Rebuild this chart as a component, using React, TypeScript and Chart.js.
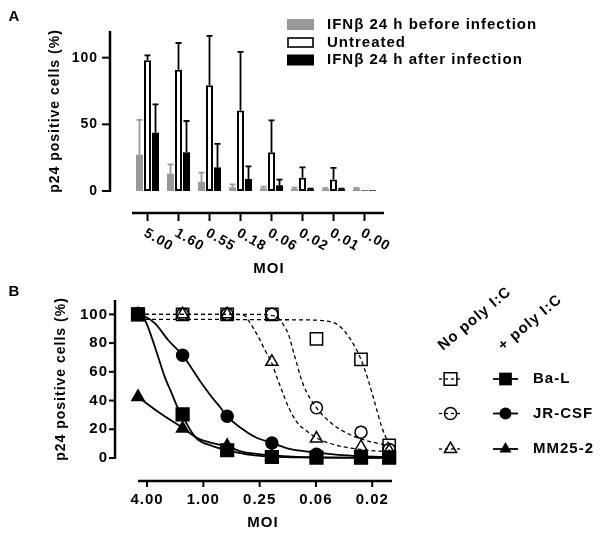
import React, { useEffect, useRef } from 'react';
import { Chart, registerables } from 'chart.js';

Chart.register(...registerables);

const FONT = '"Liberation Sans", Arial, sans-serif';

// ---------------- Panel A data ----------------
const MOI_A = ['5.00', '1.60', '0.55', '0.18', '0.06', '0.02', '0.01', '0.00'];
const SERIES_A = ['IFNβ 24 h before infection', 'Untreated', 'IFNβ 24 h after infection'];
const BEFORE = [27.3, 13, 6.8, 2.8, 2, 1.5, 1.5, 1.8];
const BEFORE_ERR = [26, 7, 7, 2.2, 1.3, 1, 0.8, 0.5];
const UNTREATED = [98, 91, 79.3, 60.4, 29, 10, 8.6, 0.5];
const UNTREATED_ERR = [3.7, 20, 37, 44, 24, 7.7, 8.8, 0];
const AFTER = [43.7, 29, 17.7, 9, 4.3, 1.3, 1.3, 0.5];
const AFTER_ERR = [21.3, 23.5, 17.7, 9.4, 4.3, 0.5, 0.5, 0];
const Y_TICKS_A = [0, 50, 100];
const Y_TITLE = 'p24 positive cells (%)';
const X_TITLE = 'MOI';

// ---------------- Panel B data ----------------
const MOI_B = [5, 1.667, 0.556, 0.185, 0.0617, 0.0206, 0.0103];
const X_TICKS_B = [4, 1, 0.25, 0.0625, 0.015625];
const X_TICK_LABELS_B = ['4.00', '1.00', '0.25', '0.06', '0.02'];
const Y_TICKS_B = [0, 20, 40, 60, 80, 100];
const VIRUSES = ['Ba-L', 'JR-CSF', 'MM25-2'];
const COLUMN_HEADERS = ['No poly I:C', '+ poly I:C'];

const BAL_NO = [100, 100, 100, 100, 83, 68.6, 8.8];
const JR_NO = [100, 100, 100, 100, 35, 18, 6];
const MM_NO = [100, 100, 100, 67, 13.5, 7.7, 5];
const BAL_PLUS = [100, 30.4, 5.4, 0.7, 0.3, 0.2, 0.2];
const JR_PLUS = [100, 71.6, 29, 10.5, 2.6, 0.8, 0.5];
const MM_PLUS = [42.5, 20.5, 8.5, 1.2, 0.6, 0.5, 0.5];

// fitted curves
const BAL_NO_FIT_X = [5, 0.1, 0.05, 0.036, 0.0282, 0.0239, 0.0206, 0.0172, 0.0146, 0.0124, 0.0103];
const BAL_NO_FIT_Y = [96.6, 96.2, 95.5, 92.5, 85, 77.4, 68.6, 54, 38, 22, 8.8];
const JR_NO_FIT_X = [5, 0.26, 0.2, 0.159, 0.14, 0.123, 0.1047, 0.0853, 0.0617, 0.0424, 0.0306, 0.0211, 0.0103];
const JR_NO_FIT_Y = [100, 100, 99.5, 97.5, 93, 86, 70, 51, 35, 24, 18, 13.5, 8.4];
const MM_NO_FIT_X = [5, 0.45, 0.359, 0.331, 0.258, 0.219, 0.185, 0.164, 0.145, 0.123, 0.1, 0.0755, 0.0617, 0.0375, 0.0211, 0.0103];
const MM_NO_FIT_Y = [100, 100, 99, 96, 84.3, 75, 66, 56.4, 47.2, 35.5, 25, 18, 14, 8.8, 6, 4.2];
const BAL_PLUS_FIT_X = [5, 4.21, 3.57, 3.03, 2.57, 2.18, 1.85, 1.667, 1.51, 1.33, 1.13, 0.814, 0.556, 0.389, 0.28, 0.185, 0.1, 0.0617, 0.0206, 0.0103];
const BAL_PLUS_FIT_Y = [100, 96, 84, 70, 56, 45, 34, 29, 24, 18, 12.5, 8.5, 5.5, 3.2, 1.8, 0.9, 0.4, 0.2, 0.1, 0.1];
const JR_PLUS_FIT_X = [5, 4.21, 3.29, 2.37, 1.667, 1.33, 1.04, 0.814, 0.664, 0.556, 0.389, 0.28, 0.185, 0.123, 0.0723, 0.036, 0.0206, 0.0103];
const JR_PLUS_FIT_Y = [100, 98.5, 93.7, 82, 71.6, 62.3, 51.8, 42.5, 35.5, 29, 20.5, 14.6, 10.5, 6.5, 4.2, 2.2, 1.3, 0.6];
const MM_PLUS_FIT_X = [5, 3.03, 1.667, 1.13, 0.814, 0.556, 0.389, 0.28, 0.185, 0.1, 0.0617, 0.0206, 0.0103];
const MM_PLUS_FIT_Y = [42.5, 32, 21, 13.5, 10.5, 8, 4.5, 3, 1.8, 0.8, 0.5, 0.3, 0.3];

const bold = (size: number) => `bold ${size}px ${FONT}`;

function text(ctx: any, s: string, x: number, y: number, size: number, align: string, base: string, spacing = 1) {
  ctx.font = bold(size);
  ctx.textAlign = align;
  ctx.textBaseline = base;
  ctx.letterSpacing = spacing + 'px';
  ctx.fillStyle = '#000';
  ctx.fillText(s, x, y);
  ctx.letterSpacing = '0px';
}

function drawYAxis(chart: any, ticks: number[], tickLen: number, pad: number, tickSize: number, titleX: number) {
  const { ctx, chartArea } = chart;
  const y = chart.scales.y;
  const { left, top, bottom } = chartArea;
  ctx.save();
  ctx.strokeStyle = '#000';
  ctx.lineWidth = 2.5;
  ctx.beginPath();
  ctx.moveTo(left, top);
  ctx.lineTo(left, bottom + 1);
  ctx.stroke();
  ticks.forEach((v) => {
    const py = y.getPixelForValue(v);
    ctx.lineWidth = 2;
    ctx.beginPath();
    ctx.moveTo(left - tickLen, py);
    ctx.lineTo(left, py);
    ctx.stroke();
    text(ctx, String(v), left - tickLen - pad, py, tickSize, 'right', 'middle');
  });
  ctx.translate(titleX, (top + bottom) / 2);
  ctx.rotate(-Math.PI / 2);
  text(ctx, Y_TITLE, 0, 0, 14, 'center', 'middle');
  ctx.restore();
}

function drawMarker(ctx: CanvasRenderingContext2D, style: string, x: number, y: number, r: number, filled: boolean) {
  ctx.beginPath();
  if (style === 'rect') {
    const s = r * Math.SQRT1_2;
    ctx.rect(x - s, y - s, 2 * s, 2 * s);
  } else if (style === 'circle') {
    ctx.arc(x, y, r, 0, Math.PI * 2);
  } else {
    for (let k = 0; k < 3; k++) {
      const a = (k * 2 * Math.PI) / 3;
      const px = x + Math.sin(a) * r;
      const py = y - Math.cos(a) * r;
      if (k) ctx.lineTo(px, py); else ctx.moveTo(px, py);
    }
    ctx.closePath();
  }
  if (filled) {
    ctx.fillStyle = '#000';
    ctx.fill();
  } else {
    ctx.strokeStyle = '#000';
    ctx.lineWidth = 1.5;
    ctx.stroke();
  }
}

const panelAPlugin = {
  id: 'panelA',
  afterDatasetsDraw(chart: any) {
    const { ctx } = chart;
    const y = chart.scales.y;
    const vals = [BEFORE, UNTREATED, AFTER];
    const errs = [BEFORE_ERR, UNTREATED_ERR, AFTER_ERR];
    const colors = ['#999999', '#000', '#000'];
    ctx.save();
    errs.forEach((e, d) => {
      const meta = chart.getDatasetMeta(d);
      meta.data.forEach((bar: any, i: number) => {
        if (e[i] <= 0) return;
        const top = y.getPixelForValue(vals[d][i]);
        const end = y.getPixelForValue(vals[d][i] + e[i]);
        ctx.strokeStyle = colors[d];
        ctx.lineWidth = 1.8;
        ctx.beginPath();
        ctx.moveTo(bar.x, top);
        ctx.lineTo(bar.x, end);
        ctx.moveTo(bar.x - 3, end);
        ctx.lineTo(bar.x + 3, end);
        ctx.stroke();
      });
    });
    ctx.restore();
  },
  afterDraw(chart: any) {
    const { ctx } = chart;
    const x = chart.scales.x;
    drawYAxis(chart, Y_TICKS_A, 8, 4, 14, 55);
    ctx.save();
    ctx.strokeStyle = '#000';
    text(ctx, 'A', 14, 17, 15, 'center', 'middle', 0);
    // detached x axis
    const axisY = 213;
    ctx.lineWidth = 2.5;
    ctx.beginPath();
    ctx.moveTo(132, axisY);
    ctx.lineTo(384, axisY);
    ctx.stroke();
    ctx.lineWidth = 2;
    MOI_A.forEach((lab, i) => {
      const px = x.getPixelForValue(i);
      ctx.beginPath();
      ctx.moveTo(px, axisY);
      ctx.lineTo(px, axisY + 8);
      ctx.stroke();
      ctx.save();
      ctx.translate(px + 1, 226);
      ctx.rotate(Math.PI / 6);
      text(ctx, lab, 0, 0, 14, 'left', 'top', 1);
      ctx.restore();
    });
    text(ctx, X_TITLE, 269, 269, 15, 'center', 'middle');
    // legend
    const rows = [24.5, 42.5, 60];
    const fills = ['#999999', '#ffffff', '#000000'];
    rows.forEach((ry, i) => {
      ctx.fillStyle = fills[i];
      ctx.fillRect(287, ry - 5.5, 27, 11);
      if (i === 1) {
        ctx.lineWidth = 1.6;
        ctx.strokeStyle = '#000';
        ctx.strokeRect(288, ry - 4.5, 25, 9);
      }
      text(ctx, SERIES_A[i], 327, ry, 15, 'left', 'middle');
    });
    ctx.restore();
  },
};

const panelBPlugin = {
  id: 'panelB',
  afterDraw(chart: any) {
    const { ctx } = chart;
    const x = chart.scales.x;
    drawYAxis(chart, Y_TICKS_B, 6, 1, 15, 61);
    ctx.save();
    ctx.strokeStyle = '#000';
    text(ctx, 'B', 14, 292, 15, 'center', 'middle', 0);
    // detached x axis
    const axisY = 481;
    ctx.lineWidth = 2.5;
    ctx.beginPath();
    ctx.moveTo(138, axisY);
    ctx.lineTo(392, axisY);
    ctx.stroke();
    ctx.lineWidth = 2;
    X_TICKS_B.forEach((v, i) => {
      const px = x.getPixelForValue(v);
      ctx.beginPath();
      ctx.moveTo(px, axisY);
      ctx.lineTo(px, axisY + 6);
      ctx.stroke();
      text(ctx, X_TICK_LABELS_B[i], px, 500, 15, 'center', 'middle');
    });
    text(ctx, X_TITLE, 263, 523, 15, 'center', 'middle');
    // column headers
    const headerX = [443, 503];
    COLUMN_HEADERS.forEach((h, i) => {
      ctx.save();
      ctx.translate(headerX[i], 351);
      ctx.rotate((-40 * Math.PI) / 180);
      text(ctx, h, 0, 0, 15, 'left', 'alphabetic');
      ctx.restore();
    });
    // legend rows
    const rows = [379, 413.5, 449];
    const styles = ['rect', 'circle', 'triangle'];
    const radii = [9, 6, 7];
    rows.forEach((ry, i) => {
      ctx.strokeStyle = '#000';
      ctx.lineWidth = 1.3;
      ctx.setLineDash([3, 3]);
      ctx.beginPath();
      ctx.moveTo(439, ry);
      ctx.lineTo(462, ry);
      ctx.stroke();
      ctx.setLineDash([]);
      drawMarker(ctx, styles[i], 450.5, ry, radii[i], false);
      ctx.strokeStyle = '#000';
      ctx.lineWidth = 1.8;
      ctx.beginPath();
      ctx.moveTo(493, ry);
      ctx.lineTo(518, ry);
      ctx.stroke();
      drawMarker(ctx, styles[i], 505.5, ry, radii[i], true);
      text(ctx, VIRUSES[i], 533, ry, 15, 'left', 'middle');
    });
    ctx.restore();
  },
};

function hiddenY(max: number) {
  return { type: 'linear', display: false, min: 0, max, bounds: 'data' };
}

function configA(): any {
  const mk = (vals: number[]) => vals.map((v, i) => ({ x: i, y: v }));
  return {
    type: 'bar',
    data: {
      datasets: [
        { label: SERIES_A[0], data: mk(BEFORE), backgroundColor: '#999999', borderWidth: 0 },
        { label: SERIES_A[1], data: mk(UNTREATED), backgroundColor: '#ffffff', borderColor: '#000', borderWidth: 2, borderSkipped: false },
        { label: SERIES_A[2], data: mk(AFTER), backgroundColor: '#000000', borderWidth: 0 },
      ],
    },
    options: {
      responsive: false,
      animation: false,
      devicePixelRatio: 1,
      events: [],
      layout: { padding: { left: 110, top: 31, right: 217, bottom: 344 } },
      datasets: { bar: { categoryPercentage: 0.774, barPercentage: 0.875 } },
      scales: {
        x: {
          type: 'linear',
          display: false,
          offset: false,
          grid: { offset: false },
          min: -1.21,
          max: 7.629,
          bounds: 'data',
          afterBuildTicks: (s: any) => {
            s.ticks = MOI_A.map((_, i) => ({ value: i }));
          },
        },
        y: hiddenY(120),
      },
      plugins: { legend: { display: false }, tooltip: { enabled: false } },
    },
    plugins: [panelAPlugin],
  };
}

function configB(): any {
  const pts = (xs: number[], ys: number[]) => xs.map((x, i) => ({ x, y: ys[i] }));
  const marker = (label: string, ys: number[], style: string, r: number, filled: boolean) => ({
    label,
    data: pts(MOI_B, ys),
    showLine: false,
    pointStyle: style,
    pointRadius: r,
    pointBorderWidth: 1.5,
    pointBorderColor: '#000',
    pointBackgroundColor: filled ? '#000' : 'rgba(0,0,0,0)',
    clip: false,
  });
  const fit = (label: string, xs: number[], ys: number[], dashed: boolean) => ({
    label,
    data: pts(xs, ys),
    showLine: true,
    pointRadius: 0,
    borderColor: '#000',
    borderWidth: dashed ? 1.3 : 1.8,
    borderDash: dashed ? [4, 3] : [],
    cubicInterpolationMode: 'monotone',
    fill: false,
    clip: false,
  });
  return {
    type: 'line',
    data: {
      datasets: [
        marker(VIRUSES[0] + ' +', BAL_PLUS, 'rect', 9, true),
        marker(VIRUSES[1] + ' +', JR_PLUS, 'circle', 6, true),
        marker(VIRUSES[2] + ' +', MM_PLUS, 'triangle', 7, true),
        marker(VIRUSES[0], BAL_NO, 'rect', 8.7, false),
        marker(VIRUSES[1], JR_NO, 'circle', 6, false),
        marker(VIRUSES[2], MM_NO, 'triangle', 7, false),
        fit(VIRUSES[0] + ' fit +', BAL_PLUS_FIT_X, BAL_PLUS_FIT_Y, false),
        fit(VIRUSES[1] + ' fit +', JR_PLUS_FIT_X, JR_PLUS_FIT_Y, false),
        fit(VIRUSES[2] + ' fit +', MM_PLUS_FIT_X, MM_PLUS_FIT_Y, false),
        fit(VIRUSES[0] + ' fit', BAL_NO_FIT_X, BAL_NO_FIT_Y, true),
        fit(VIRUSES[1] + ' fit', JR_NO_FIT_X, JR_NO_FIT_Y, true),
        fit(VIRUSES[2] + ' fit', MM_NO_FIT_X, MM_NO_FIT_Y, true),
      ],
    },
    options: {
      responsive: false,
      animation: false,
      devicePixelRatio: 1,
      events: [],
      layout: { padding: { left: 115, top: 300, right: 204, bottom: 77 } },
      scales: {
        x: {
          type: 'logarithmic',
          reverse: true,
          display: false,
          min: 0.00849,
          max: 8.81,
          bounds: 'data',
        },
        y: hiddenY(110),
      },
      plugins: { legend: { display: false }, tooltip: { enabled: false } },
    },
    plugins: [panelBPlugin],
  };
}

export default function App() {
  const refA = useRef<HTMLCanvasElement>(null);
  const refB = useRef<HTMLCanvasElement>(null);
  useEffect(() => {
    const a = new Chart(refA.current as HTMLCanvasElement, configA());
    const b = new Chart(refB.current as HTMLCanvasElement, configB());
    return () => {
      a.destroy();
      b.destroy();
    };
  }, []);
  return (
    <div style={{ position: 'absolute', left: 0, top: 0, width: 601, height: 535, background: '#fff', overflow: 'hidden' }}>
      <canvas ref={refA} width={601} height={535} style={{ position: 'absolute', left: 0, top: 0 }} />
      <canvas ref={refB} width={601} height={535} style={{ position: 'absolute', left: 0, top: 0 }} />
    </div>
  );
}
